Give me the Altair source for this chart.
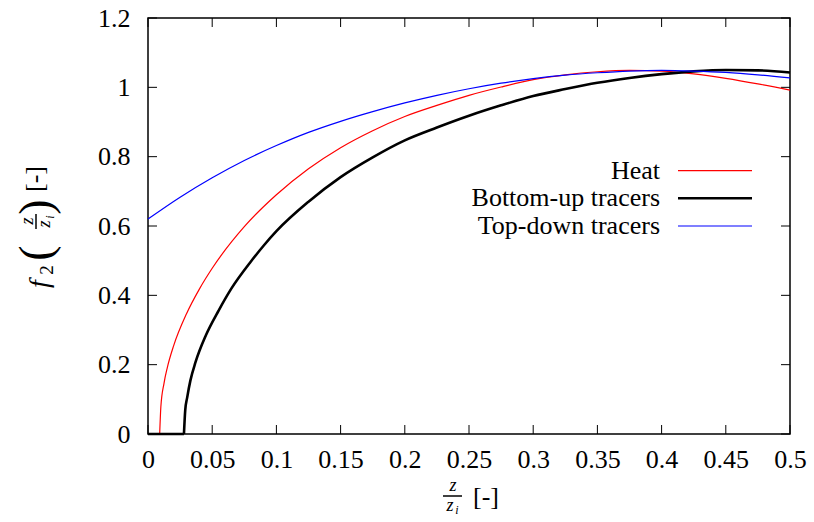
import altair as alt
import pandas as pd

FONT = "Liberation Serif"

# ---- data ----
heat_z = [0.0, 0.0091, 0.010, 0.0125, 0.015, 0.020, 0.030, 0.040, 0.050, 0.075, 0.100, 0.125,
          0.150, 0.175, 0.200, 0.225, 0.250, 0.275, 0.300, 0.325, 0.350, 0.375, 0.400,
          0.425, 0.450, 0.475, 0.500]
heat_f = [0.0, 0.0, 0.078, 0.147, 0.191, 0.255, 0.347, 0.418, 0.478, 0.598, 0.690, 0.765,
          0.826, 0.875, 0.916, 0.948, 0.977, 1.001, 1.022, 1.036, 1.045, 1.049, 1.047,
          1.039, 1.026, 1.010, 0.992]

bu_z = [0.0, 0.028, 0.029, 0.0305, 0.033, 0.037, 0.045, 0.055, 0.065, 0.080, 0.090, 0.100,
        0.125, 0.150, 0.175, 0.200, 0.225, 0.250, 0.275, 0.300, 0.325, 0.350, 0.375, 0.400,
        0.425, 0.450, 0.475, 0.500]
bu_f = [0.0, 0.0, 0.069, 0.105, 0.154, 0.207, 0.284, 0.356, 0.420, 0.497, 0.543, 0.585,
        0.670, 0.741, 0.798, 0.847, 0.884, 0.918, 0.948, 0.975, 0.995, 1.013, 1.027, 1.038,
        1.046, 1.050, 1.049, 1.043]

td_z = [0.0, 0.025, 0.050, 0.075, 0.100, 0.125, 0.150, 0.175, 0.200, 0.225, 0.250, 0.275,
        0.300, 0.325, 0.350, 0.375, 0.400, 0.425, 0.450, 0.475, 0.500]
td_f = [0.620, 0.683, 0.739, 0.789, 0.832, 0.870, 0.902, 0.930, 0.955, 0.977, 0.996, 1.012,
        1.025, 1.035, 1.042, 1.047, 1.049, 1.047, 1.043, 1.036, 1.027]

series_names = ["Heat", "Bottom-up tracers", "Top-down tracers"]
series_colors = ["#ff0000", "#000000", "#0000ff"]
series_widths = [1.2, 2.6, 1.2]

x_ticks = [0, 0.05, 0.1, 0.15, 0.2, 0.25, 0.3, 0.35, 0.4, 0.45, 0.5]
y_ticks = [0, 0.2, 0.4, 0.6, 0.8, 1.0, 1.2]

# ---- layout ----
W, H = 642, 416
TICK = 9


def split_parts(zs, fs):
    rows = []
    start = 0
    for i in range(1, len(zs)):
        if fs[i] == 0 and fs[i - 1] == 0:
            start = i
    if start > 0:
        for i in range(0, start + 1):
            rows.append({"z": zs[i], "f": fs[i], "part": "flat"})
    for i in range(start, len(zs)):
        rows.append({"z": zs[i], "f": fs[i], "part": "curve"})
    return pd.DataFrame(rows)


xscale = alt.Scale(domain=[0, 0.5], nice=False, zero=False)
yscale = alt.Scale(domain=[0, 1.2], nice=False, zero=False)
xaxis = alt.Axis(values=x_ticks, format="~g", title=None, ticks=False, domain=False, grid=False,
                 labelFont=FONT, labelFontSize=26, labelColor="black", labelPadding=12,
                 labelFlush=False, labelOverlap=False)
yaxis = alt.Axis(values=y_ticks, format="~g", title=None, ticks=False, domain=False, grid=False,
                 labelFont=FONT, labelFontSize=26, labelColor="black", labelPadding=18,
                 labelFlush=False, labelOverlap=False)

X = lambda f: alt.X(f, scale=xscale, axis=xaxis)
Y = lambda f: alt.Y(f, scale=yscale, axis=yaxis)

layers = []

# inward ticks on all four sides
xt = pd.DataFrame({"v": x_ticks})
yt = pd.DataFrame({"v": y_ticks})
layers.append(alt.Chart(xt).mark_rule(color="black", strokeWidth=1).encode(
    x=X("v:Q"), y=alt.value(H), y2=alt.value(H - TICK)))
layers.append(alt.Chart(xt).mark_rule(color="black", strokeWidth=1).encode(
    x=X("v:Q"), y=alt.value(0), y2=alt.value(TICK)))
layers.append(alt.Chart(yt).mark_rule(color="black", strokeWidth=1).encode(
    y=Y("v:Q"), x=alt.value(0), x2=alt.value(TICK)))
layers.append(alt.Chart(yt).mark_rule(color="black", strokeWidth=1).encode(
    y=Y("v:Q"), x=alt.value(W), x2=alt.value(W - TICK)))

# curves
for (zs, fs), col, sw in zip([(heat_z, heat_f), (bu_z, bu_f), (td_z, td_f)], series_colors, series_widths):
    df = split_parts(zs, fs)
    layers.append(alt.Chart(df).mark_line(color=col, strokeWidth=sw, interpolate="monotone").encode(
        x=X("z:Q"), y=Y("f:Q"), detail="part:N", order="z:Q"))

# legend (text right-aligned, sample line on the right)
leg_rows_y = [152.7, 180.3, 208.0]
for name, col, sw, ly in zip(series_names, series_colors, series_widths, leg_rows_y):
    layers.append(alt.Chart(pd.DataFrame({"t": [name]})).mark_text(
        x=512, y=ly, align="right", baseline="middle", font=FONT, fontSize=26, color="black"
    ).encode(text="t:N"))
    layers.append(alt.Chart(pd.DataFrame({"t": [name]})).mark_rule(color=col, strokeWidth=sw).encode(
        x=alt.value(530), x2=alt.value(604), y=alt.value(ly)))


def txt(s, x, y, size, italic=False, angle=0):
    props = dict(x=x, y=y, fontSize=size, font=FONT, angle=angle, align="center",
                 baseline="middle", color="black")
    if italic:
        props["fontStyle"] = "italic"
    return alt.Chart(pd.DataFrame({"t": [s]})).mark_text(**props).encode(text="t:N")


def bar(x1, x2, y1, y2, w=1.5):
    return alt.Chart(pd.DataFrame({"t": [0]})).mark_rule(color="black", strokeWidth=w).encode(
        x=alt.value(x1), x2=alt.value(x2), y=alt.value(y1), y2=alt.value(y2))


# y-axis title: f_2 ( z / z_i ) [-], rotated
layers += [
    txt("f", -108, 266, 28, italic=True, angle=270),
    txt("2", -101, 252, 19, angle=270),
    txt("(", -111, 235, 46, angle=270),
    bar(-112, -112, 196, 211, 1.5),
    txt("z", -120, 203, 18, italic=True, angle=270),
    txt("z", -103, 206, 18, italic=True, angle=270),
    txt("i", -98, 199, 12, italic=True, angle=270),
    txt(")", -111, 189, 46, angle=270),
    txt("[-]", -113, 161, 26, angle=270),
]

# x-axis title: z / z_i [-]
layers += [
    txt("z", 305, 468, 18, italic=True),
    bar(295, 314, 478, 478, 1.5),
    txt("z", 302, 488, 18, italic=True),
    txt("i", 309, 492, 12, italic=True),
    txt("[-]", 338, 479, 26),
]

chart = alt.layer(*layers).properties(
    width=W, height=H,
    padding={"left": 148, "top": 18, "right": 24, "bottom": 88},
    autosize=alt.AutoSizeParams(type="none"),
    background="white",
).configure_view(stroke="black", strokeWidth=1.5)

chart.save("out.html", embed_options={"renderer": "svg", "actions": False})
